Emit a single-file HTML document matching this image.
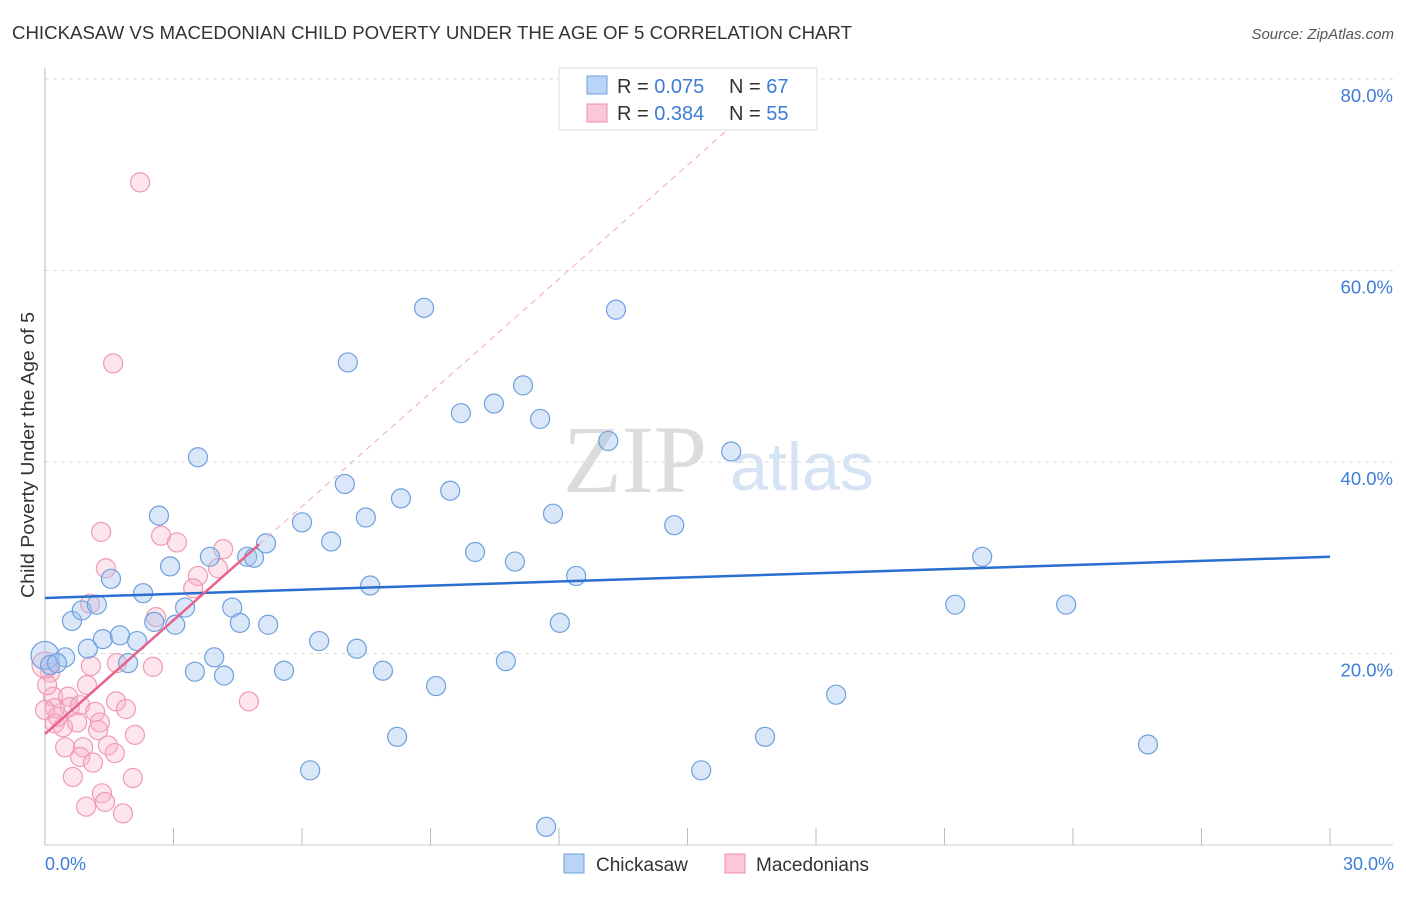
<!DOCTYPE html>
<html><head><meta charset="utf-8"><style>
body{margin:0;background:#fff;font-family:"Liberation Sans",sans-serif;}
</style></head><body>
<svg id="chart" width="1406" height="892" xmlns="http://www.w3.org/2000/svg">
<text x="12" y="39" font-size="18" fill="#333" textLength="840" lengthAdjust="spacingAndGlyphs">CHICKASAW VS MACEDONIAN CHILD POVERTY UNDER THE AGE OF 5 CORRELATION CHART</text>
<text x="1394" y="39" font-size="15" fill="#555" font-style="italic" text-anchor="end">Source: ZipAtlas.com</text>
<text x="635" y="492" font-size="96" fill="#dcdcdc" font-family="Liberation Serif,serif" text-anchor="middle">ZIP</text>
<text x="802" y="490" font-size="68" fill="#d5e3f5" text-anchor="middle">atlas</text>
<g id="grid"></g><g id="axes"></g><g id="marks"></g>
<text transform="translate(34,455) rotate(-90)" font-size="18.5" fill="#333" text-anchor="middle" textLength="286" lengthAdjust="spacingAndGlyphs">Child Poverty Under the Age of 5</text>
<text x="45" y="870" font-size="18" fill="#3d7dd8">0.0%</text>
<text x="1394" y="870" font-size="18" fill="#3d7dd8" text-anchor="end">30.0%</text>
<g>
<rect x="559" y="68" width="258" height="62" fill="#fff" stroke="#ddd"/>
<rect x="587" y="76" width="20" height="18" fill="#b9d4f5" stroke="#6fa0dd"/>
<rect x="587" y="104" width="20" height="18" fill="#fbc8d7" stroke="#f08cab"/>
<text x="617" y="93" font-size="20" fill="#333">R = <tspan fill="#3d7dd8">0.075</tspan></text>
<text x="729" y="93" font-size="20" fill="#333">N = <tspan fill="#3d7dd8">67</tspan></text>
<text x="617" y="120" font-size="20" fill="#333">R = <tspan fill="#3d7dd8">0.384</tspan></text>
<text x="729" y="120" font-size="20" fill="#333">N = <tspan fill="#3d7dd8">55</tspan></text>
</g>
<g>
<rect x="564" y="854" width="20" height="19" fill="#b9d4f5" stroke="#6fa0dd"/>
<text x="596" y="871" font-size="19" fill="#333">Chickasaw</text>
<rect x="725" y="854" width="20" height="19" fill="#fbc8d7" stroke="#f08cab"/>
<text x="756" y="871" font-size="19" fill="#333">Macedonians</text>
</g>
</svg>
<script>
const yTicks=[20,40,60,80];
const yTickLabels=["20.0%","40.0%","60.0%","80.0%"];
const xTicks=[0,3,6,9,12,15,18,21,24,27,30];
const blueX=[0,0.12,0.47,0.28,0.63,0.86,1.21,1.0,1.35,1.54,1.75,1.94,2.15,2.29,2.55,2.66,2.92,3.04,3.27,3.5,3.57,3.85,3.95,4.18,4.37,4.55,4.72,4.88,5.16,5.21,5.58,6.0,6.19,6.4,6.68,7.0,7.07,7.28,7.49,7.59,7.89,8.22,8.31,8.85,9.13,9.46,9.71,10.04,10.48,10.76,10.97,11.16,11.56,11.7,11.86,12.02,12.4,13.15,13.33,14.69,15.32,16.02,16.81,18.47,21.25,21.88,23.84,25.75];
const blueY=[19.8,18.8,19.6,19.0,23.4,24.5,25.1,20.5,21.5,27.8,21.9,19.0,21.3,26.3,23.3,34.4,29.1,23.0,24.8,18.1,40.5,30.1,19.6,17.7,24.8,23.2,30.1,30.0,31.5,23.0,18.2,33.7,7.8,21.3,31.7,37.7,50.4,20.5,34.2,27.1,18.2,11.3,36.2,56.1,16.6,37.0,45.1,30.6,46.1,19.2,29.6,48.0,44.5,1.9,34.6,23.2,28.1,42.2,55.9,33.4,7.8,41.1,11.3,15.7,25.1,30.1,25.1,10.5];
const pinkX=[1.31,1.42,2.71,3.08,4.16,4.04,3.57,3.46,1.05,2.59,1.07,1.68,2.52,0.98,1.66,1.89,2.1,4.76,0.12,0.19,0.23,0.54,0.58,0.82,1.17,0.23,0.42,0.75,1.28,1.24,0.47,0.89,1.47,1.63,0.82,1.12,0.65,2.05,1.33,1.4,0.96,1.82,0,0.05,0.3,0,2.22,1.59];
const pinkY=[32.7,28.9,32.3,31.6,30.9,28.9,28.1,26.8,25.2,23.8,18.7,19.0,18.6,16.7,15.0,14.2,11.5,15.0,18.0,15.5,14.3,15.5,14.4,14.6,13.9,12.7,12.3,12.8,12.8,12.0,10.2,10.2,10.4,9.6,9.2,8.6,7.1,7.0,5.4,4.5,4.0,3.3,14.1,16.7,13.4,18.8,69.2,50.3];
const blueTrend=[25.8,30.1];
const pinkTrend=[11.6,31.4];
const pinkTrendEndX=5.0, pinkDashEndX=16.2;

const NS="http://www.w3.org/2000/svg";
const X=v=>45+v/30*1285;
const Y=v=>845-v/20*191.5;
function mk(tag,attrs,parent){const e=document.createElementNS(NS,tag);for(const k in attrs)e.setAttribute(k,attrs[k]);parent.appendChild(e);return e;}
const grid=document.getElementById('grid'),axes=document.getElementById('axes'),marks=document.getElementById('marks');
yTicks.forEach((t,i)=>{
 const l=mk('line',{x1:45,x2:1393,y1:Y(t),y2:Y(t),stroke:'#ddd','stroke-dasharray':'4,4'},grid);
 
 
 const tx=mk('text',{x:1393,y:Y(t)+23,'font-size':18.5,fill:'#3d7dd8','text-anchor':'end'},grid);
 tx.textContent=yTickLabels[i];
 
 
});
const ya=mk('line',{x1:45,x2:45,y1:68,y2:845,stroke:'#bbb'},axes);


const xa=mk('line',{x1:45,x2:1393,y1:845,y2:845,stroke:'#ccc'},axes);


xTicks.forEach(t=>{
 const l=mk('line',{x1:X(t),x2:X(t),y1:828,y2:845,stroke:'#bbb'},axes);
 
 
});
pinkX.forEach((x,i)=>{
 const r=(x===0&&pinkY[i]>18)?13:9.5;
 const c=mk('circle',{cx:X(x),cy:Y(pinkY[i]),r:r,fill:'rgba(248,175,198,0.33)',stroke:'#f09ab5','stroke-width':1.2},marks);
 
 
});
blueX.forEach((x,i)=>{
 const r=(i===0)?14:9.5;
 const c=mk('circle',{cx:X(x),cy:Y(blueY[i]),r:r,fill:'rgba(160,196,240,0.4)',stroke:'#6fa0dd','stroke-width':1.2},marks);
 
 
});
const bl=mk('line',{x1:X(0),y1:Y(blueTrend[0]),x2:X(30),y2:Y(blueTrend[1]),stroke:'#2a6fd0','stroke-width':2.5},marks);


const slope=(pinkTrend[1]-pinkTrend[0])/pinkTrendEndX;
const pd=mk('line',{x1:X(pinkTrendEndX),y1:Y(pinkTrend[1]),x2:X(pinkDashEndX),y2:Y(pinkTrend[0]+slope*pinkDashEndX),stroke:'#f0a8bd','stroke-width':1,'stroke-dasharray':'6,5'},marks);


const pl=mk('line',{x1:X(0),y1:Y(pinkTrend[0]),x2:X(pinkTrendEndX),y2:Y(pinkTrend[1]),stroke:'#e8628c','stroke-width':2.5},marks);


</script>
</body></html>
